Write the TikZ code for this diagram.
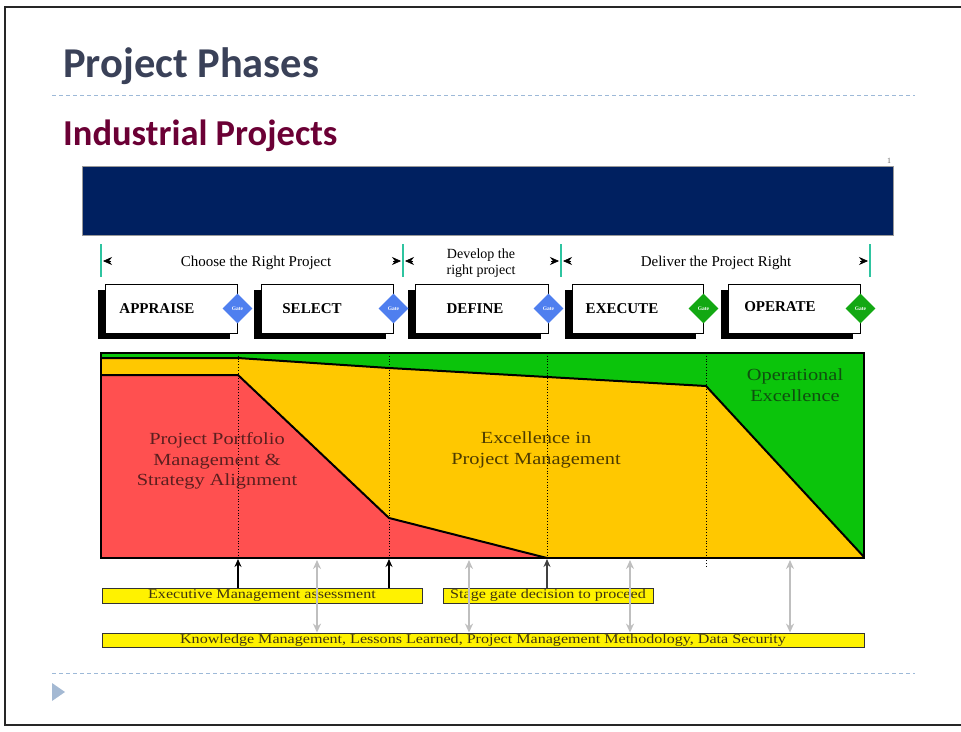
\documentclass[tikz,border=0pt]{standalone}
\usepackage{fontspec}
\setmainfont{Liberation Serif}
\newfontfamily\titlefont{Carlito}
\newfontfamily\widefont{Liberation Serif}[FakeStretch=1.2]
\usetikzlibrary{shapes.geometric,arrows.meta,shadows}
\definecolor{navy}{HTML}{002060}
\definecolor{slate}{HTML}{3A4158}
\definecolor{maroon}{HTML}{6B0035}
\definecolor{dashblue}{HTML}{9DB9D8}
\definecolor{tealtick}{HTML}{2EC4A0}
\definecolor{gateblue}{HTML}{4F7FEF}
\definecolor{gategreen}{HTML}{13A813}
\definecolor{chgreen}{HTML}{0BC40B}
\definecolor{chyellow}{HTML}{FFC800}
\definecolor{chred}{HTML}{FF5050}
\definecolor{txred}{HTML}{5B1F1F}
\definecolor{txbrown}{HTML}{4D3B00}
\definecolor{txgreen}{HTML}{0F4F0F}
\definecolor{txolive}{HTML}{3F3410}
\definecolor{tri}{HTML}{A4B9D3}
\tikzset{
  phasebox/.style={draw=black, line width=1pt, fill=white, minimum width=132pt, minimum height=49pt, inner sep=0pt,
    drop shadow={shadow xshift=-7pt, shadow yshift=-6pt, opacity=1, fill=black}},
  phasetext/.style={font=\fontsize{15}{18}\selectfont\bfseries, inner sep=0pt},
  gate/.style={diamond, fill=#1, draw=none, minimum width=30pt, minimum height=30pt, inner sep=0pt,
    text=white, font=\fontsize{5.5}{6}\selectfont\bfseries},
  tick/.style={draw=tealtick, line width=2pt},
  tip/.style={-{Stealth[length=9pt,width=8pt,inset=3pt]}, line width=0.6pt, black},
  hdr/.style={font=\fontsize{15}{17}\selectfont, inner sep=0pt, align=center},
  chtext/.style={font=\widefont\fontsize{17}{20.5}\selectfont, inner sep=0pt, align=center},
  ybox/.style={draw=black!80, fill=yellow, line width=0.8pt, inner sep=0pt, minimum height=15pt,
    font=\widefont\fontsize{13.4}{15}\selectfont, text=txolive},
  barrow/.style={-{Stealth[length=8pt,width=7pt]}, line width=1.2pt},
  garrow/.style={{Stealth[length=9pt,width=8pt]}-{Stealth[length=9pt,width=8pt]}, line width=1.4pt, draw=black!25},
  dline/.style={draw=dashblue, line width=0.9pt, dash pattern=on 4pt off 3pt},
  gridline/.style={draw=black, line width=0.8pt, dotted},
  outline/.style={draw=black, line width=2pt, line join=miter}
}
\begin{document}
\begin{tikzpicture}[x=1pt,y=-1pt]
\useasboundingbox (0,0) rectangle (961,731);
% slide frame
\draw[line width=2.5pt, draw=black!85] (962,7) -- (5,7) -- (5,725) -- (962,725);
% titles
\node[anchor=base west, inner sep=0pt, text=slate, font=\titlefont\fontsize{42.5}{46}\selectfont\bfseries] (title) at (63,77) {Project Phases};
\draw[dline] (52,95) -- (915,95);
\node[anchor=base west, inner sep=0pt, text=maroon, font=\titlefont\fontsize{36.5}{40}\selectfont\bfseries] (subtitle) at (63,145) {Industrial Projects};
% navy banner
\node[fill=navy, draw=black!40, line width=0.4pt, minimum width=811pt, minimum height=69pt, inner sep=0pt] (banner) at (487.5,200.5) {};
\node[inner sep=0pt, font=\fontsize{8}{9}\selectfont, text=black!60] (one) at (889,161) {1};
% phase header ticks
\coordinate (t1) at (101,244);
\coordinate (t2) at (403,244);
\coordinate (t3) at (561,244);
\coordinate (t4) at (870,244);
\draw[tick] (t1) -- ++(0,33);
\draw[tick] (t2) -- ++(0,33);
\draw[tick] (t3) -- ++(0,33);
\draw[tick] (t4) -- ++(0,33);
\draw[tip] ([shift={(10,17)}]t1) -- ([shift={(2,17)}]t1);
\draw[tip] ([shift={(-10,17)}]t2) -- ([shift={(-2,17)}]t2);
\draw[tip] ([shift={(10,17)}]t2) -- ([shift={(2,17)}]t2);
\draw[tip] ([shift={(-10,17)}]t3) -- ([shift={(-2,17)}]t3);
\draw[tip] ([shift={(10,17)}]t3) -- ([shift={(2,17)}]t3);
\draw[tip] ([shift={(-10,17)}]t4) -- ([shift={(-2,17)}]t4);
\node[hdr, anchor=base] (h1) at (256,266) {Choose the Right Project};
\node[hdr, font=\fontsize{14}{16}\selectfont] (h2) at (481,263) {Develop the\\right project};
\node[hdr, anchor=base] (h3) at (716,266) {Deliver the Project Right};
% phase boxes
\node[phasebox] (appraise) at (171,308.5) {};
\node[phasebox] (select) at (327,308.5) {};
\node[phasebox, minimum width=133pt] (define) at (481.5,308.5) {};
\node[phasebox, minimum width=131pt] (execute) at (637.5,308.5) {};
\node[phasebox] (operate) at (794,308.5) {};
\node[phasetext] (appraiseT) at (157,309) {APPRAISE};
\node[phasetext] (selectT) at (312,309) {SELECT};
\node[phasetext] (defineT) at (475,309) {DEFINE};
\node[phasetext] (executeT) at (622,309) {EXECUTE};
\node[phasetext] (operateT) at (780,307) {OPERATE};
\node[gate=gateblue] (g1) at (appraise.east) {Gate};
\node[gate=gateblue] (g2) at (select.east) {Gate};
\node[gate=gateblue] (g3) at (define.east) {Gate};
\node[gate=gategreen] (g4) at (execute.east) {Gate};
\node[gate=gategreen] (g5) at (operate.east) {Gate};
% chart
\fill[chgreen] (101,353) rectangle (864,558);
\fill[chyellow] (101,358) -- (238,358) -- (389,368) -- (706,386) -- (864,557) -- (864,558) -- (101,558) -- cycle;
\fill[chred] (101,375) -- (238,375) -- (389,518) -- (547,558) -- (101,558) -- cycle;
\draw[outline] (101,358) -- (238,358) -- (389,368) -- (706,386) -- (864,557);
\draw[outline] (101,375) -- (238,375) -- (389,518) -- (547,558);
\draw[gridline] (238,353) -- (238,558);
\draw[gridline] (389,353) -- (389,558);
\draw[gridline] (547,353) -- (547,558);
\draw[gridline] (706,353) -- (706,566);
\draw[outline] (101,353) rectangle (864,558);
\node[chtext, text=txred] (ppm) at (217,461) {Project Portfolio\\Management \&\\Strategy Alignment};
\node[chtext, text=txbrown] (epm) at (536,450) {Excellence in\\Project Management};
\node[chtext, text=txgreen] (opx) at (795,385) {Operational\\Excellence};
% bottom boxes
\node[ybox, minimum width=320pt] (exec) at (262,595.5) {Executive Management assessment};
\node[ybox, minimum width=210pt] (stage) at (548,595.5) {Stage gate decision to proceed};
\node[ybox, minimum width=762pt, minimum height=14pt] (know) at (483,640) {Knowledge Management, Lessons Learned, Project Management Methodology, Data Security};
% arrows
\coordinate (b1) at (238,559);
\coordinate (b2) at (389,559);
\coordinate (b3) at (547,559);
\coordinate (c1) at (317,560);
\coordinate (c2) at (469,560);
\coordinate (c3) at (630,560);
\coordinate (c4) at (790,560);
\draw[barrow] (exec.north -| b1) -- (b1);
\draw[barrow] (exec.north -| b2) -- (b2);
\draw[barrow, draw=black!75] (stage.north -| b3) -- (b3);
\draw[garrow] (c1) -- (c1 |- know.north);
\draw[garrow] (c2) -- (c2 |- know.north);
\draw[garrow] (c3) -- (c3 |- know.north);
\draw[garrow] (c4) -- (c4 |- know.north);
% footer
\draw[dline] (52,673) -- (915,673);
\fill[tri] (52,683) -- (65,692) -- (52,701) -- cycle;
\end{tikzpicture}
\end{document}
